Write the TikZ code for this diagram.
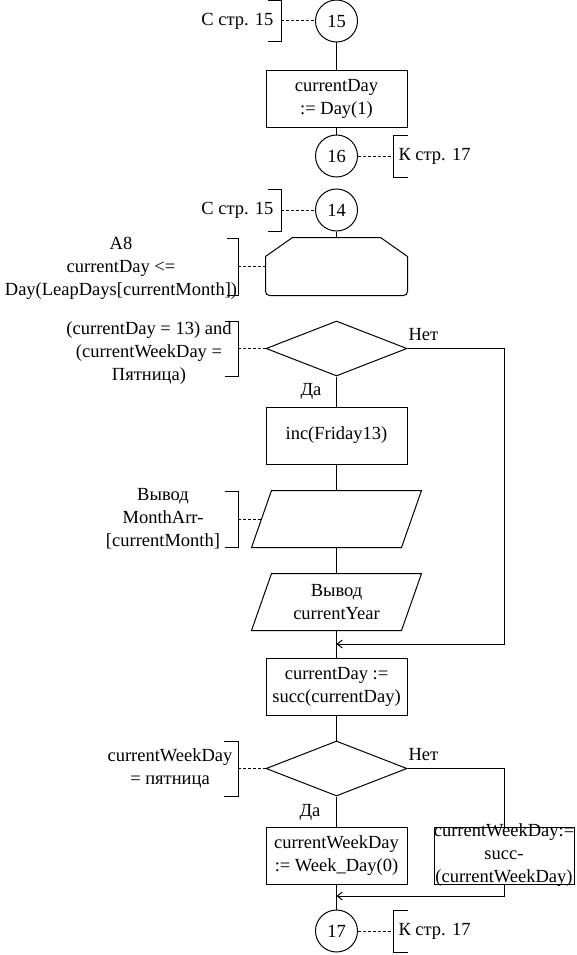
\documentclass[tikz,border=0pt]{standalone}
\usepackage{fontspec}
\setmainfont{Liberation Serif}
\usetikzlibrary{shapes.geometric,arrows.meta}

\begin{document}
\begin{tikzpicture}[x=1pt,y=-1pt,line width=1pt,
  txt/.style={font=\fontsize{18.5}{23}\selectfont,align=center,inner sep=0pt},
  conn/.style={circle,draw,minimum size=42pt,txt},
  proc/.style={rectangle,draw,minimum width=141pt,minimum height=57pt,txt},
  cond/.style={diamond,draw,minimum width=141pt,minimum height=55pt,inner sep=0pt},
  io/.style={minimum width=149pt,minimum height=56pt,txt},
  note/.style={dash pattern=on 3pt off 2pt},
  merge/.style={-{Straight Barb[length=5pt,width=8pt]}}]
\useasboundingbox (0,0) rectangle (576,955);

% page 15 part
\node[conn] (c15) at (336.5,21) {15};
\node[proc] (init) at (336.5,99) {currentDay\\:= Day(1)};
\node[conn] (c16) at (336.5,156) {16};
\node[txt,anchor=east] (from15) at (274,21) {С стр. 15};
\draw (268,0.5) -- (281,0.5) -- (281,42) -- (268,42);
\draw[note] (281,21) -- (c15.west);
\node[txt,anchor=west] (to17a) at (398,156) {К стр. 17};
\draw (408,135) -- (393,135) -- (393,177) -- (408,177);
\draw[note] (c16.east) -- (393,156);
\draw (c15) -- (init);
\draw (init) -- (c16);

% loop over days
\node[conn] (c14) at (336.5,210) {14};
\node[txt,anchor=east] (from15b) at (274,210) {С стр. 15};
\draw (268,189) -- (281,189) -- (281,231) -- (268,231);
\draw[note] (281,210) -- (c14.west);
\node[minimum width=141pt,minimum height=57pt,inner sep=0pt] (loop) at (336.5,266.5) {};
\draw ([yshift=-19pt]loop.north west) -- ([xshift=27pt]loop.north west) -- ([xshift=-27pt]loop.north east)
  -- ([yshift=-19pt]loop.north east) [rounded corners=4pt] -- (loop.south east) -- (loop.south west) [sharp corners] -- cycle;
\node[txt] (loopnote) at (121,268.5) {A8\\currentDay <=\\Day(LeapDays[currentMonth])};
\draw (227,238.5) -- (238,238.5) -- (238,295) -- (227,295);
\draw[note] (238,266.5) -- (loop.west);
\draw (c14) -- (loop);

% friday 13 check
\node[cond] (fri) at (336.5,348.5) {};
\node[txt] (frinote) at (149,353) {(currentDay = 13) and\\(currentWeekDay =\\Пятница)};
\draw (225,321) -- (238,321) -- (238,376) -- (225,376);
\draw[note] (238,348.5) -- (fri.west);
\node[txt,anchor=west] (no1) at (408,335) {Нет};
\node[txt] (yes1) at (311,391) {Да};
\node[proc] (inc) at (336.5,435.5) {inc(Friday13)};
\node[io] (out1) at (336.5,519) {};
\draw ([xshift=10pt]out1.north west) -- ([xshift=10pt]out1.north east) -- ([xshift=-10pt]out1.south east) -- ([xshift=-10pt]out1.south west) -- cycle;
\node[txt] (out1note) at (163,519) {Вывод\\MonthArr-\\{}[currentMonth]};
\draw (225,491) -- (238,491) -- (238,547) -- (225,547);
\draw[note] (238,519) -- (out1.west);
\node[io] (out2) at (336.5,602) {Вывод\\currentYear};
\draw ([xshift=10pt]out2.north west) -- ([xshift=10pt]out2.north east) -- ([xshift=-10pt]out2.south east) -- ([xshift=-10pt]out2.south west) -- cycle;
\coordinate (r1) at (504,644);
\coordinate (m1) at (336.5,644);
\draw (fri) -- (inc);
\draw (inc) -- (out1);
\draw (out1) -- (out2);
\draw[merge] (fri.east) -| (r1) -- (m1);

% next day
\node[proc] (next) at (336.5,687) {currentDay :=\\succ(currentDay)};
\draw (out2) -- (next);
\node[cond] (wkd) at (336.5,768.5) {};
\node[txt] (wkdnote) at (170,768.5) {currentWeekDay\\= пятница};
\draw (224,741) -- (238,741) -- (238,796) -- (224,796);
\draw[note] (238,768.5) -- (wkd.west);
\node[txt,anchor=west] (no2) at (408,755) {Нет};
\node[txt] (yes2) at (310,812) {Да};
\node[proc] (wd0) at (336.5,855.5) {currentWeekDay\\:= Week\_Day(0)};
\node[proc,minimum width=140pt] (wdn) at (504,855.5) {};
\node[txt] (wdntext) at (wdn) {currentWeekDay:=\\succ-\\(currentWeekDay)};
\node[conn] (c17) at (336.5,931) {17};
\coordinate (m2) at (336.5,896);
\draw (next) -- (wkd);
\draw (wkd) -- (wd0);
\draw (wkd.east) -| (wdn.north);
\draw[merge] (wdn.south) |- (m2);
\draw (wd0) -- (c17);
\node[txt,anchor=west] (to17b) at (398,931) {К стр. 17};
\draw (408,910) -- (393,910) -- (393,952) -- (408,952);
\draw[note] (c17.east) -- (393,931);
\end{tikzpicture}
\end{document}
